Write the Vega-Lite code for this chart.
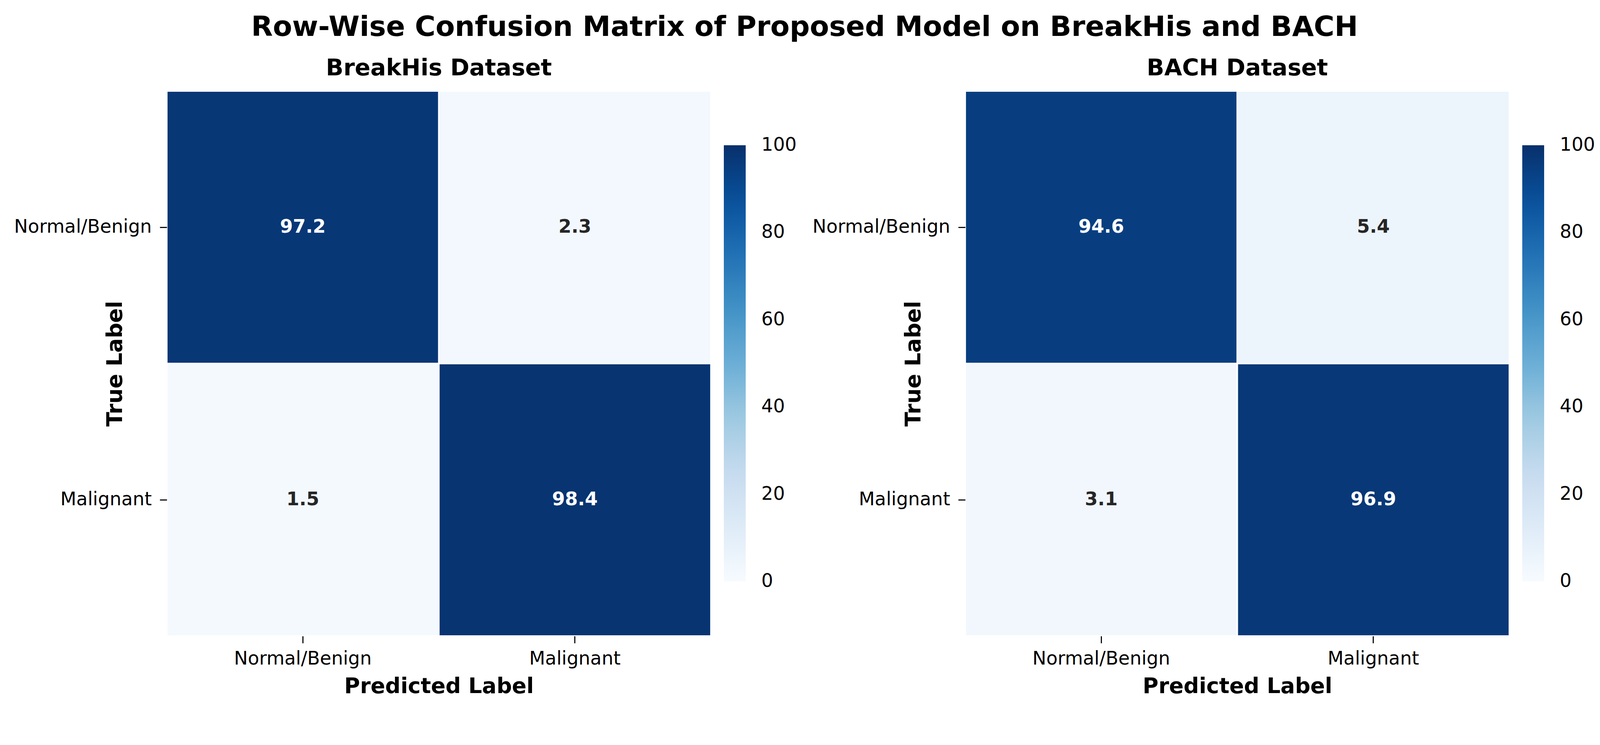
{
  "$schema": "https://vega.github.io/schema/vega-lite/v6.json",
  "background": "white",
  "padding": {"left": 35, "top": 34, "right": 0, "bottom": 94},
  "title": {"text": "Row-Wise Confusion Matrix of Proposed Model on BreakHis and BACH", "fontSize": 72, "fontWeight": "bold", "font": "DejaVu Sans", "anchor": "middle", "baseline": "top", "offset": 39, "color": "black"},
  "data": {"values": [
    {"dataset": "BreakHis", "actual": "Normal/Benign", "pred": "Normal/Benign", "value": 97.2},
    {"dataset": "BreakHis", "actual": "Normal/Benign", "pred": "Malignant", "value": 2.3},
    {"dataset": "BreakHis", "actual": "Malignant", "pred": "Normal/Benign", "value": 1.5},
    {"dataset": "BreakHis", "actual": "Malignant", "pred": "Malignant", "value": 98.4},
    {"dataset": "BACH", "actual": "Normal/Benign", "pred": "Normal/Benign", "value": 94.6},
    {"dataset": "BACH", "actual": "Normal/Benign", "pred": "Malignant", "value": 5.4},
    {"dataset": "BACH", "actual": "Malignant", "pred": "Normal/Benign", "value": 3.1},
    {"dataset": "BACH", "actual": "Malignant", "pred": "Malignant", "value": 96.9}
  ]},
  "spacing": 39,
  "resolve": {"scale": {"color": "independent"}, "legend": {"color": "independent"}},
  "hconcat": [
    {
      "title": {"text": "BreakHis Dataset", "fontSize": 59, "fontWeight": "bold", "font": "DejaVu Sans", "anchor": "middle", "baseline": "alphabetic", "offset": -21, "color": "black"},
      "width": 1393, "height": 1396,
      "transform": [{"filter": "datum.dataset === 'BreakHis'"}],
      "encoding": {
        "x": {"field": "pred", "type": "nominal", "sort": ["Normal/Benign", "Malignant"], "scale": {"paddingInner": 0, "paddingOuter": 0}, "title": "Predicted Label",
              "axis": {"labelPadding": 17, "titleY": 145, "titleBaseline": "alphabetic"}},
        "y": {"field": "actual", "type": "nominal", "sort": ["Normal/Benign", "Malignant"], "scale": {"paddingInner": 0, "paddingOuter": 0}, "title": "True Label",
              "axis": {"labelPadding": 21, "titleX": -116, "titleY": 698, "titleBaseline": "alphabetic", "titleAngle": -90}}
      },
      "layer": [
        {"mark": {"type": "rect", "stroke": "white", "strokeWidth": 3.8},
         "encoding": {"color": {"field": "value", "type": "quantitative",
           "scale": {"domain": [0, 12.5, 25, 37.5, 50, 62.5, 75, 87.5, 100], "range": ["#f7fbff", "#deebf7", "#c6dbef", "#9ecae1", "#6baed6", "#4292c6", "#2171b5", "#08519c", "#08306b"], "interpolate": "rgb"},
           "legend": {"orient": "none", "legendX": 1426, "legendY": 139, "direction": "vertical", "gradientLength": 1117, "gradientThickness": 56, "title": null, "values": [0, 20, 40, 60, 80, 100], "labelFontSize": 47.4, "labelOffset": 40, "labelFont": "DejaVu Sans", "labelColor": "black", "gradientStrokeWidth": 0,
             "encode": {"labels": {"update": {"baseline": {"value": "middle"}}}}}}}},
        {"mark": {"type": "text", "fontSize": 47.4, "fontWeight": "bold", "font": "DejaVu Sans", "baseline": "middle"},
         "encoding": {"text": {"field": "value", "type": "quantitative", "format": ".1f"},
           "color": {"condition": {"test": "datum.value > 50", "value": "white"}, "value": "#262626"}}}
      ]
    },
    {
      "title": {"text": "BACH Dataset", "fontSize": 59, "fontWeight": "bold", "font": "DejaVu Sans", "anchor": "middle", "baseline": "alphabetic", "offset": -21, "color": "black"},
      "width": 1393, "height": 1396,
      "transform": [{"filter": "datum.dataset === 'BACH'"}],
      "encoding": {
        "x": {"field": "pred", "type": "nominal", "sort": ["Normal/Benign", "Malignant"], "scale": {"paddingInner": 0, "paddingOuter": 0}, "title": "Predicted Label",
              "axis": {"labelPadding": 17, "titleY": 145, "titleBaseline": "alphabetic"}},
        "y": {"field": "actual", "type": "nominal", "sort": ["Normal/Benign", "Malignant"], "scale": {"paddingInner": 0, "paddingOuter": 0}, "title": "True Label",
              "axis": {"labelPadding": 21, "titleX": -116, "titleY": 698, "titleBaseline": "alphabetic", "titleAngle": -90}}
      },
      "layer": [
        {"mark": {"type": "rect", "stroke": "white", "strokeWidth": 3.8},
         "encoding": {"color": {"field": "value", "type": "quantitative",
           "scale": {"domain": [0, 12.5, 25, 37.5, 50, 62.5, 75, 87.5, 100], "range": ["#f7fbff", "#deebf7", "#c6dbef", "#9ecae1", "#6baed6", "#4292c6", "#2171b5", "#08519c", "#08306b"], "interpolate": "rgb"},
           "legend": {"orient": "none", "legendX": 1426, "legendY": 139, "direction": "vertical", "gradientLength": 1117, "gradientThickness": 56, "title": null, "values": [0, 20, 40, 60, 80, 100], "labelFontSize": 47.4, "labelOffset": 40, "labelFont": "DejaVu Sans", "labelColor": "black", "gradientStrokeWidth": 0,
             "encode": {"labels": {"update": {"baseline": {"value": "middle"}}}}}}}},
        {"mark": {"type": "text", "fontSize": 47.4, "fontWeight": "bold", "font": "DejaVu Sans", "baseline": "middle"},
         "encoding": {"text": {"field": "value", "type": "quantitative", "format": ".1f"},
           "color": {"condition": {"test": "datum.value > 50", "value": "white"}, "value": "#262626"}}}
      ]
    }
  ],
  "config": {
    "view": {"stroke": null},
    "font": "DejaVu Sans",
    "axis": {"domain": false, "grid": false, "ticks": true, "tickColor": "black", "tickWidth": 2.8, "tickSize": 18, "labelFontSize": 47.4, "labelFont": "DejaVu Sans", "labelColor": "black", "labelAngle": 0, "labelLimit": 0, "titleFontSize": 55, "titleFont": "DejaVu Sans", "titleFontWeight": "bold", "titleColor": "black"}
  }
}
